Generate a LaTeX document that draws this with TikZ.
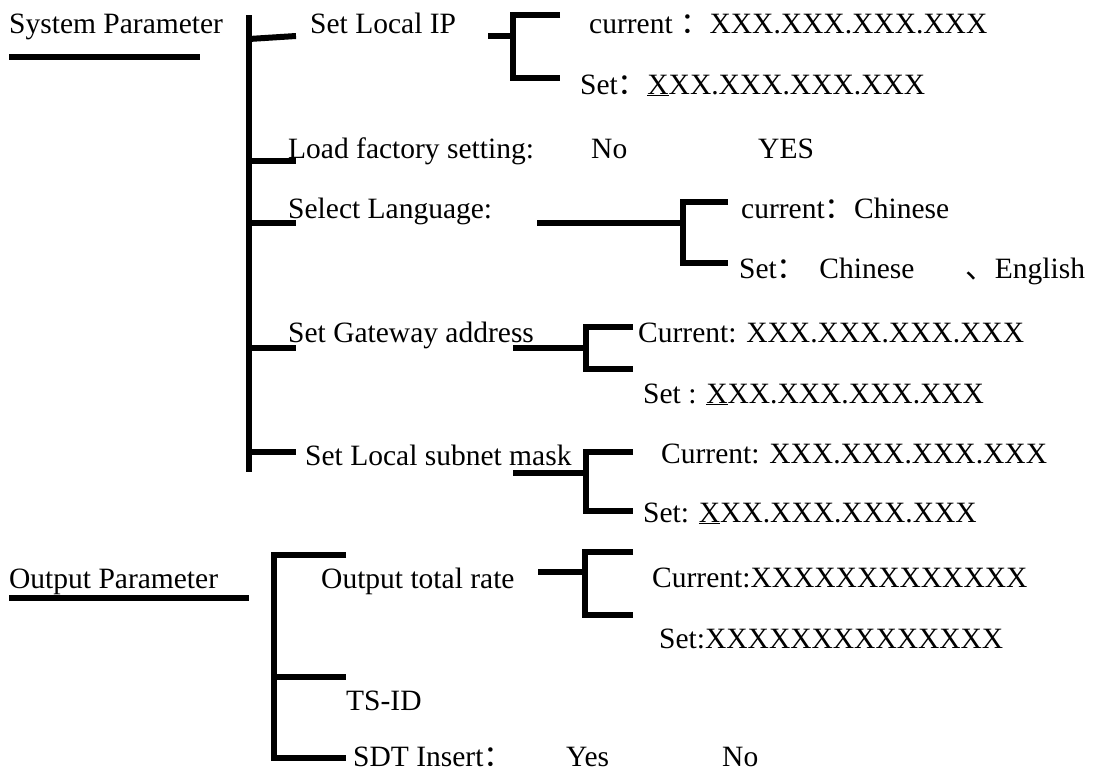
\documentclass[tikz,border=0pt]{standalone}
\usepackage{fontspec}
\setmainfont{Liberation Serif}
\newfontfamily\cjk{Noto Sans CJK SC}
\usetikzlibrary{positioning}

\begin{document}
\begin{tikzpicture}[
  x=1pt, y=-1pt,
  lbl/.style={anchor=base west, inner sep=0pt, font=\fontsize{29.5}{34}\selectfont},
  bar/.style={line width=6pt}
]
  \useasboundingbox (0,0) rectangle (1095,771);

  % system parameter branch
  \node[lbl] (sys) at (9,33) {System Parameter};
  \node[lbl] (setip) at (310,33) {Set Local IP};
  \node[lbl] (ipcur) at (589,33) {current {\cjk ：}XXX.XXX.XXX.XXX};
  \node[lbl] (ipset) at (580,94) {Set{\cjk ：}\underline{X}XX.XXX.XXX.XXX};
  \node[lbl] (load) at (288,158) {Load factory setting:};
  \node[lbl] (ldno) at (591,158) {No};
  \node[lbl] (ldyes) at (758,158) {YES};
  \node[lbl] (lang) at (288,218) {Select Language:};
  \node[lbl] (lgcur) at (741,218) {current{\cjk ：}Chinese};
  \node[lbl] (lgset) at (739,278) {Set{\cjk ：}\hspace{13pt}Chinese\hspace{51pt}{\cjk 、}English};
  \node[lbl] (gw) at (288,342) {Set Gateway address};
  \node[lbl] (gwcur) at (638,342) {Current: XXX.XXX.XXX.XXX};
  \node[lbl] (gwset) at (643,403) {Set : \underline{X}XX.XXX.XXX.XXX};
  \node[lbl] (mask) at (305,465) {Set Local subnet mask};
  \node[lbl] (mkcur) at (661,463) {Current: XXX.XXX.XXX.XXX};
  \node[lbl] (mkset) at (643,522) {Set: \underline{X}XX.XXX.XXX.XXX};

  % output parameter branch
  \node[lbl] (out) at (9,588) {Output Parameter};
  \node[lbl] (rate) at (321,588) {Output total rate};
  \node[lbl] (rtcur) at (652,587) {Current:XXXXXXXXXXXXX};
  \node[lbl] (rtset) at (659,648) {Set:XXXXXXXXXXXXXX};
  \node[lbl] (tsid) at (346,710) {TS-ID};
  \node[lbl] (sdt) at (353,766) {SDT Insert{\cjk ：}};
  \node[lbl] (sdtyes) at (566,766) {Yes};
  \node[lbl] (sdtno) at (722,766) {No};

  % tree lines
  \draw[bar] (9,57) -- (200,57);
  \draw[bar] (249,15) -- (249,472);
  \draw[bar] (249,39) -- (296,36);
  \draw[bar] (249,161) -- (296,161);
  \draw[bar] (249,223) -- (296,223);
  \draw[bar] (249,348) -- (296,348);
  \draw[bar] (249,452) -- (296,452);

  \draw[bar] (488,36) -- (513,36);
  \draw[bar] (560,15) -- (513,15) -- (513,78) -- (560,78);

  \draw[bar] (537,223) -- (683,223);
  \draw[bar] (728,202) -- (683,202) -- (683,263) -- (728,263);

  \draw[bar] (513,348) -- (586,348);
  \draw[bar] (633,327) -- (586,327) -- (586,369) -- (633,369);

  \draw[bar] (513,473) -- (586,473);
  \draw[bar] (633,452) -- (586,452) -- (586,511) -- (633,511);

  \draw[bar] (9,598) -- (249,598);
  \draw[bar] (346,555) -- (274,555) -- (274,758) -- (346,758);
  \draw[bar] (274,677) -- (346,677);

  \draw[bar] (538,572) -- (585,572);
  \draw[bar] (633,552) -- (585,552) -- (585,615) -- (633,615);
\end{tikzpicture}
\end{document}
